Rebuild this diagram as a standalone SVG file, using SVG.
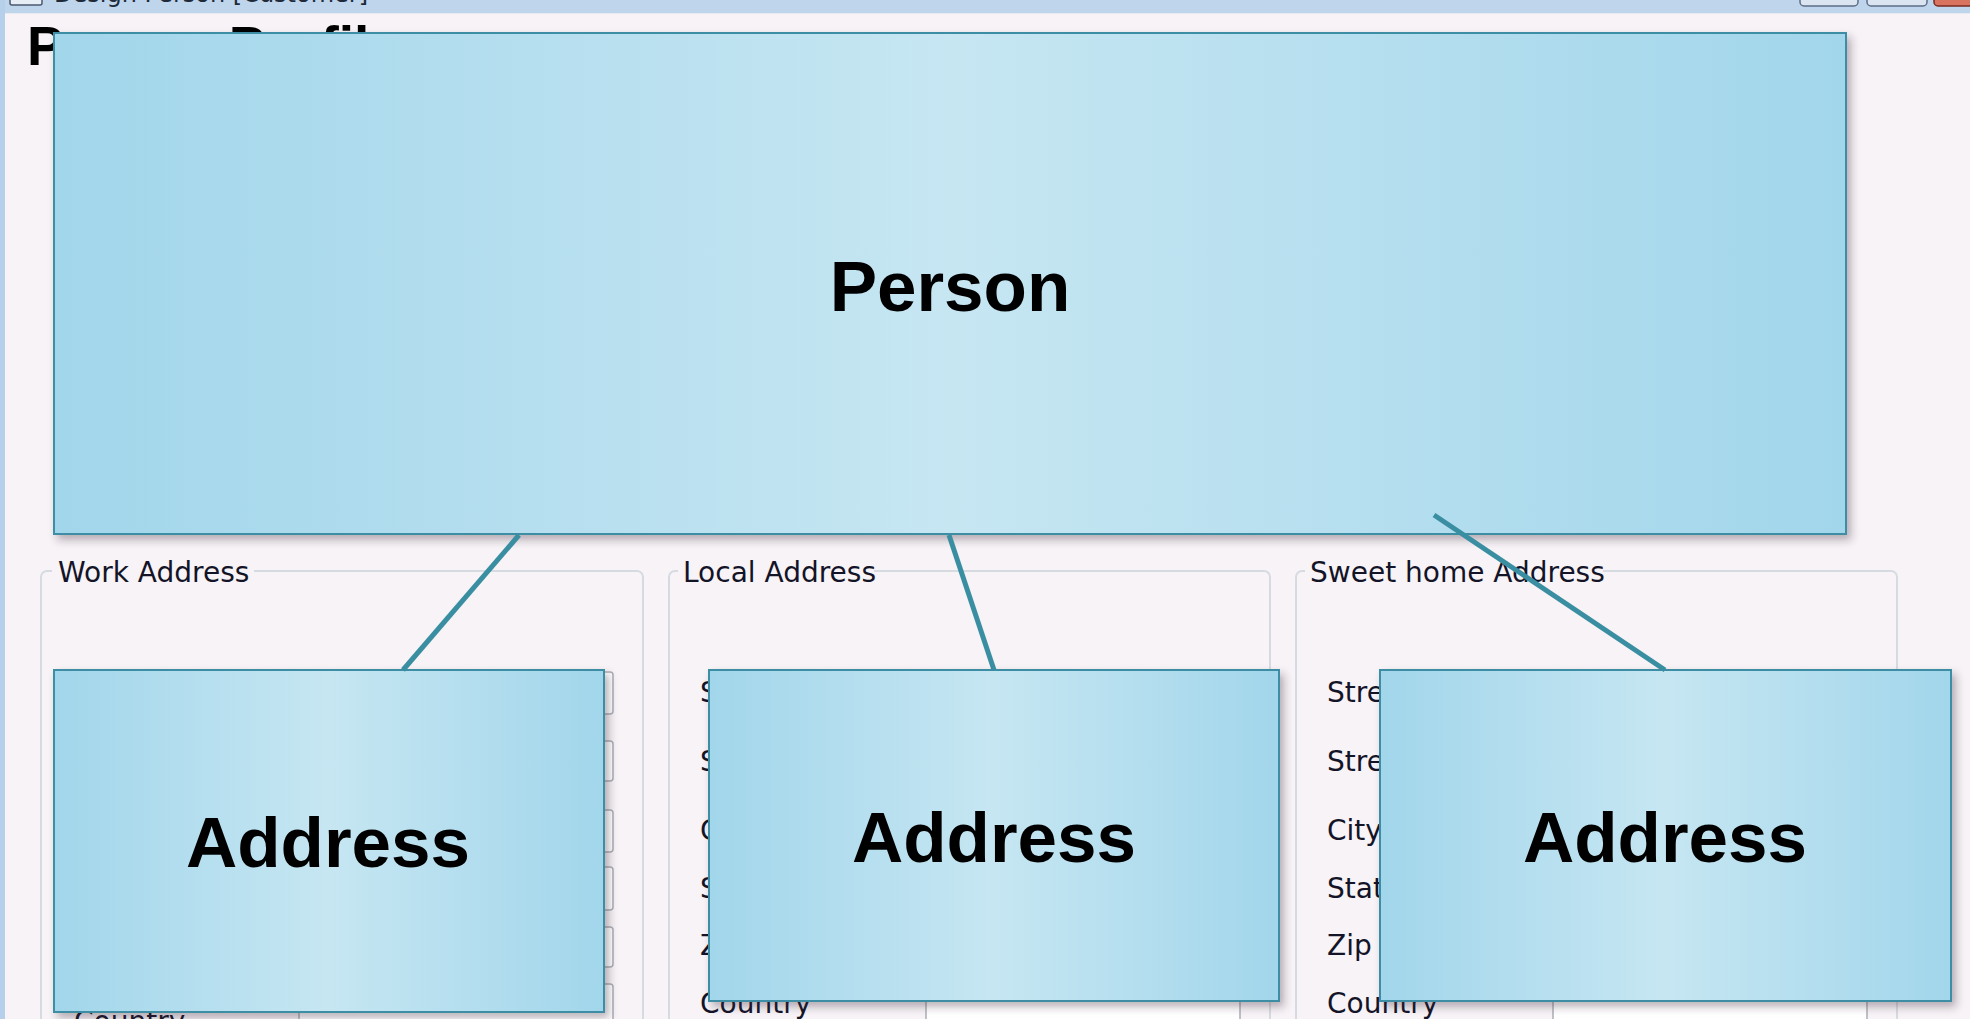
<svg xmlns="http://www.w3.org/2000/svg" width="1970" height="1019" viewBox="0 0 1970 1019">
<defs>
<linearGradient id="nodeFill" x1="0" y1="0" x2="1" y2="0">
<stop offset="0" stop-color="#a2d6eb"/>
<stop offset="0.5" stop-color="#c6e6f2"/>
<stop offset="1" stop-color="#a2d6eb"/>
</linearGradient>
<filter id="shadow" x="-5%" y="-5%" width="115%" height="120%">
<feDropShadow dx="4" dy="5" stdDeviation="4" flood-color="#3a2a3a" flood-opacity="0.35"/>
</filter>
<clipPath id="titleClip"><rect x="0" y="0" width="1970" height="13"/></clipPath>
</defs>
<style>
.node{fill:url(#nodeFill);stroke:#3c8ea4;stroke-width:2;filter:url(#shadow)}
.nlabel{font-family:"Liberation Sans",Arial,sans-serif;font-weight:bold;font-size:71px;fill:#000;text-anchor:middle}
.conn{stroke:#3a8ea2;stroke-width:5;stroke-linecap:butt;fill:none}
.grp{fill:none;stroke:#d6dbe2;stroke-width:2}
.glabel{font-family:"DejaVu Sans","Liberation Sans",sans-serif;font-size:28px;fill:#141428}
.flabel{font-family:"DejaVu Sans","Liberation Sans",sans-serif;font-size:28px;fill:#141428}
.field{fill:#ffffff;stroke:#acafb5;stroke-width:1.5}
.wbtn{fill:#dbe5f1;stroke:#5d6e86;stroke-width:1.5}
</style>
<!-- window background -->
<rect x="0" y="0" width="1970" height="1019" fill="#f7f3f6"/>
<rect x="0" y="0" width="1970" height="13" fill="#bfd5ec"/>
<rect x="0" y="0" width="5" height="1019" fill="#b6cfea"/>
<line x1="5" y1="13.5" x2="1970" y2="13.5" stroke="#e6ebf2" stroke-width="1"/>
<g clip-path="url(#titleClip)">
<rect x="10" y="-12" width="32" height="17" rx="2" fill="#e8eef6" stroke="#4b5a70" stroke-width="1.5"/>
<text x="54" y="2" font-family="DejaVu Sans,sans-serif" font-size="24" fill="#1e2a3a">Design Person [Customer]</text>
<rect x="1800" y="-12" width="58" height="18" rx="4" class="wbtn"/>
<rect x="1867" y="-12" width="60" height="18" rx="4" class="wbtn"/>
<rect x="1934" y="-12" width="50" height="18" rx="4" fill="#d8735f" stroke="#7a2a20" stroke-width="1.5"/>
</g>
<text x="27" y="65" font-family="Liberation Sans,Arial,sans-serif" font-weight="bold" font-size="55" fill="#000">Person Profile</text>
<!-- group boxes -->
<g id="work-address-group">
<rect x="41" y="571" width="602" height="470" rx="6" class="grp"/>
<rect x="52" y="556" width="202" height="28" fill="#f7f3f6"/>
<text x="58" y="582" class="glabel">Work Address</text>
<rect x="299" y="672" width="314" height="42" rx="3" class="field"/>
<rect x="299" y="741" width="314" height="40" rx="3" class="field"/>
<rect x="299" y="810" width="314" height="42" rx="3" class="field"/>
<rect x="299" y="867" width="314" height="43" rx="3" class="field"/>
<rect x="299" y="927" width="314" height="40" rx="3" class="field"/>
<rect x="299" y="984" width="314" height="50" rx="3" class="field"/>
<text x="74" y="1031" class="flabel">Country</text>
</g>
<g id="local-address-group">
<rect x="669" y="571" width="601" height="470" rx="6" class="grp"/>
<rect x="678" y="556" width="196" height="28" fill="#f7f3f6"/>
<text x="683" y="582" class="glabel">Local Address</text>
<rect x="926" y="672" width="314" height="42" rx="3" class="field"/>
<rect x="926" y="741" width="314" height="40" rx="3" class="field"/>
<rect x="926" y="810" width="314" height="42" rx="3" class="field"/>
<rect x="926" y="867" width="314" height="43" rx="3" class="field"/>
<rect x="926" y="927" width="314" height="40" rx="3" class="field"/>
<rect x="926" y="984" width="314" height="50" rx="3" class="field"/>
<text x="700" y="702" class="flabel">Street</text>
<text x="700" y="771" class="flabel">Street</text>
<text x="700" y="840" class="flabel">City</text>
<text x="700" y="898" class="flabel">State</text>
<text x="700" y="955" class="flabel">Zip Code</text>
<text x="700" y="1013" class="flabel">Country</text>
</g>
<g id="sweet-home-address-group">
<rect x="1296" y="571" width="601" height="470" rx="6" class="grp"/>
<rect x="1305" y="556" width="298" height="28" fill="#f7f3f6"/>
<text x="1310" y="582" class="glabel">Sweet home Address</text>
<rect x="1553" y="672" width="314" height="42" rx="3" class="field"/>
<rect x="1553" y="741" width="314" height="40" rx="3" class="field"/>
<rect x="1553" y="810" width="314" height="42" rx="3" class="field"/>
<rect x="1553" y="867" width="314" height="43" rx="3" class="field"/>
<rect x="1553" y="927" width="314" height="40" rx="3" class="field"/>
<rect x="1553" y="984" width="314" height="50" rx="3" class="field"/>
<text x="1327" y="702" class="flabel">Street</text>
<text x="1327" y="771" class="flabel">Street</text>
<text x="1327" y="840" class="flabel">City</text>
<text x="1327" y="898" class="flabel">State</text>
<text x="1327" y="955" class="flabel">Zip Code</text>
<text x="1327" y="1013" class="flabel">Country</text>
</g>
<!-- nodes -->
<g id="person">
<rect x="54" y="33" width="1792" height="501" class="node"/>
<text x="950" y="311" class="nlabel">Person</text>
</g>
<g id="address-work">
<rect x="54" y="670" width="550" height="342" class="node"/>
<text x="328" y="867" class="nlabel">Address</text>
</g>
<g id="address-local">
<rect x="709" y="670" width="570" height="331" class="node"/>
<text x="994" y="862" class="nlabel">Address</text>
</g>
<g id="address-home">
<rect x="1380" y="670" width="571" height="331" class="node"/>
<text x="1665" y="862" class="nlabel">Address</text>
</g>
<!-- connectors -->
<g id="connectors">
<line x1="519" y1="535" x2="403" y2="670" class="conn"/>
<line x1="949" y1="535" x2="994" y2="670" class="conn"/>
<line x1="1434" y1="515" x2="1665" y2="670" class="conn"/>
</g>
</svg>
